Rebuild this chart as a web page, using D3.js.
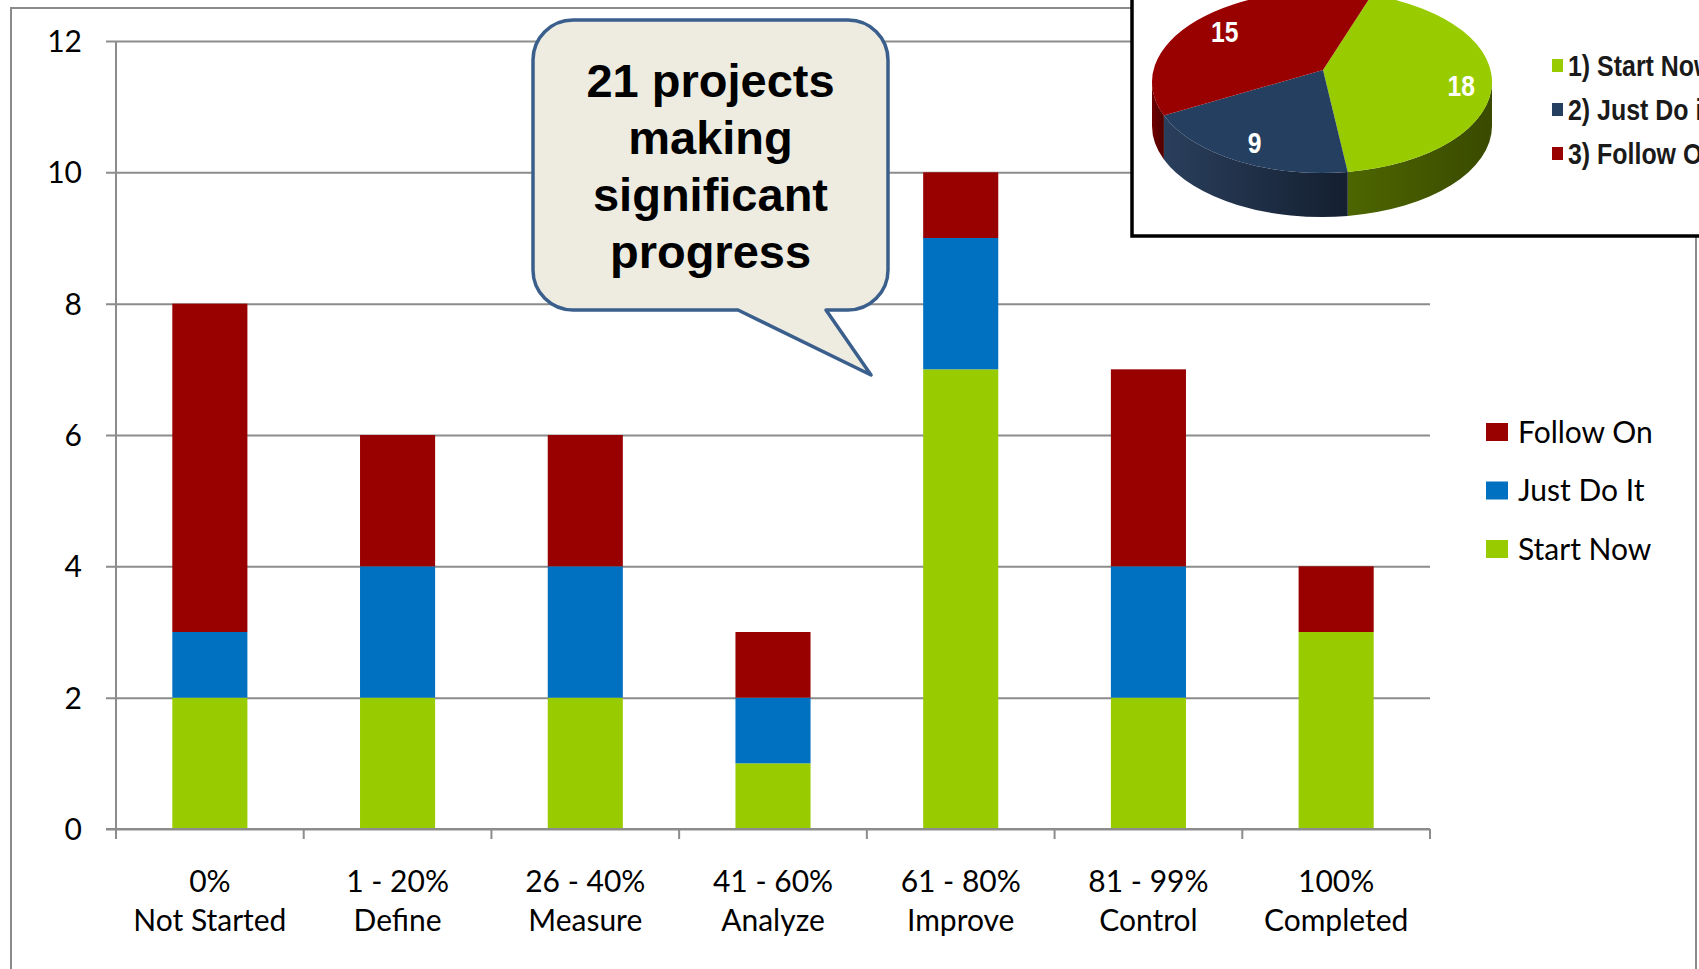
<!DOCTYPE html>
<html>
<head>
<meta charset="utf-8">
<script src="https://cdn.jsdelivr.net/npm/d3@7"></script>
<style>
  body { margin: 0; background: #fff; }
  svg { display: block; }
</style>
</head>
<body>
<div id="chart"></div>
<script>
// Bar chart data
var categories = ["0%|Not Started", "1 - 20%|Define", "26 - 40%|Measure", "41 - 60%|Analyze",
                  "61 - 80%|Improve", "81 - 99%|Control", "100%|Completed"];
var startNow = [2, 2, 2, 1, 7, 2, 3];
var justDoIt = [1, 2, 2, 1, 2, 2, 0];
var followOn = [5, 2, 2, 1, 1, 3, 1];
var yTicks = [0, 2, 4, 6, 8, 10, 12];

// Inset pie data
var pieLabels = ["1) Start Now", "2) Just Do it", "3) Follow On"];
var pieValues = [18, 9, 15];

var calloutLines = ["21 projects", "making", "significant", "progress"];

var svgWidth = 1699;
var svgHeight = 969;

var colors = { start: "#99cc00", just: "#0070c0", follow: "#990000" };

var svg = d3.select("#chart")
    .append("svg")
    .attr("width", svgWidth)
    .attr("height", svgHeight);

// outer chart border
svg.append("rect")
    .attr("x", 11).attr("y", 8)
    .attr("width", 1685).attr("height", 1000)
    .attr("fill", "none")
    .attr("stroke", "#8a8a8a")
    .attr("stroke-width", 2);

// Scales
var plotLeft = 116, plotRight = 1430, plotTop = 41, plotBottom = 829;

var xAxisScale = d3.scaleBand()
    .domain(categories)
    .range([plotLeft, plotRight])
    .padding(0);

var xBar = d3.scaleBand()
    .domain(categories)
    .range([plotLeft, plotRight])
    .paddingInner(0.6)
    .paddingOuter(0.3);

var yScale = d3.scaleLinear()
    .domain([0, 12])
    .range([plotBottom, plotTop]);

var labelFont = "Lato, 'Open Sans', sans-serif";

// gridlines + y axis
var leftAxis = d3.axisLeft(yScale)
    .tickValues(yTicks)
    .tickSize(10)
    .tickFormat(d3.format("d"));

var yAxisG = svg.append("g")
    .attr("transform", `translate(${plotLeft}, 0)`)
    .call(leftAxis);
yAxisG.select(".domain")
    .attr("stroke", "#8c8c8c")
    .attr("stroke-width", 2)
    .attr("d", `M0,${plotTop}V${plotBottom}`);
yAxisG.selectAll(".tick line")
    .attr("x1", plotRight - plotLeft)
    .attr("x2", -10)
    .attr("stroke", "#8c8c8c")
    .attr("stroke-width", 2);
yAxisG.selectAll(".tick text")
    .attr("x", 82 - plotLeft)
    .attr("dy", "0.35em")
    .attr("font-family", labelFont)
    .attr("font-size", "30px")
    .attr("fill", "#000");

// stacked bars
var table = categories.map((c, i) => ({ cat: c, start: startNow[i], just: justDoIt[i], follow: followOn[i] }));
var stack = d3.stack().keys(["start", "just", "follow"]);
var series = stack(table);

svg.append("g").selectAll("g")
    .data(series)
    .enter()
    .append("g")
    .attr("fill", d => colors[d.key])
    .selectAll("rect")
    .data(d => d)
    .enter()
    .append("rect")
    .attr("x", d => xBar(d.data.cat))
    .attr("width", xBar.bandwidth())
    .attr("y", d => yScale(d[1]))
    .attr("height", d => yScale(d[0]) - yScale(d[1]));

// x axis with ticks at category boundaries
var bottomAxis = d3.axisBottom(xAxisScale).tickSize(0).tickFormat("");
var xAxisG = svg.append("g")
    .attr("transform", `translate(0, ${plotBottom})`)
    .call(bottomAxis);
xAxisG.select(".domain")
    .attr("stroke", "#8c8c8c")
    .attr("stroke-width", 2)
    .attr("d", `M${plotLeft - 10},0H${plotRight}`);

var boundaries = categories.map(c => xAxisScale(c)).concat([plotRight]);
xAxisG.selectAll(".bound")
    .data(boundaries)
    .enter()
    .append("line")
    .attr("x1", d => d).attr("x2", d => d)
    .attr("y1", 0).attr("y2", 10)
    .attr("stroke", "#8c8c8c")
    .attr("stroke-width", 2);

var xLabels = svg.append("g").selectAll("text")
    .data(categories)
    .enter()
    .append("text")
    .attr("text-anchor", "middle")
    .attr("font-family", labelFont)
    .attr("font-size", "30px")
    .attr("fill", "#000");
xLabels.each(function(d) {
    var parts = d.split("|");
    var cx = xAxisScale(d) + xAxisScale.bandwidth() / 2;
    d3.select(this).append("tspan").attr("x", cx).attr("y", 892).text(parts[0]);
    d3.select(this).append("tspan").attr("x", cx).attr("y", 931).text(parts[1]);
});

// legend
var legendItems = [
    { key: "follow", label: "Follow On" },
    { key: "just", label: "Just Do It" },
    { key: "start", label: "Start Now" }
];
var legend = svg.append("g").selectAll("g")
    .data(legendItems)
    .enter()
    .append("g")
    .attr("transform", (d, i) => `translate(1486, ${432 + i * 58.5})`);
legend.append("rect")
    .attr("x", 0).attr("y", -9)
    .attr("width", 22).attr("height", 18)
    .attr("fill", d => colors[d.key]);
legend.append("text")
    .attr("x", 32)
    .attr("y", 0)
    .attr("dy", "0.36em")
    .attr("font-family", labelFont)
    .attr("font-size", "30px")
    .attr("fill", "#000")
    .text(d => d.label);

// callout bubble
var co = { x: 533, y: 20, w: 355, h: 290, r: 40 };
var tailA = 738, tailB = 826, tip = [871, 375];
var bubble = d3.path();
bubble.moveTo(co.x + co.r, co.y);
bubble.lineTo(co.x + co.w - co.r, co.y);
bubble.arcTo(co.x + co.w, co.y, co.x + co.w, co.y + co.r, co.r);
bubble.lineTo(co.x + co.w, co.y + co.h - co.r);
bubble.arcTo(co.x + co.w, co.y + co.h, co.x + co.w - co.r, co.y + co.h, co.r);
bubble.lineTo(tailB, co.y + co.h);
bubble.lineTo(tip[0], tip[1]);
bubble.lineTo(tailA, co.y + co.h);
bubble.lineTo(co.x + co.r, co.y + co.h);
bubble.arcTo(co.x, co.y + co.h, co.x, co.y + co.h - co.r, co.r);
bubble.lineTo(co.x, co.y + co.r);
bubble.arcTo(co.x, co.y, co.x + co.r, co.y, co.r);
bubble.closePath();

svg.append("path")
    .attr("d", bubble.toString())
    .attr("fill", "#eeece1")
    .attr("stroke", "#3b5f8c")
    .attr("stroke-width", 3.5)
    .attr("stroke-linejoin", "round");

svg.append("g").selectAll("text")
    .data(calloutLines)
    .enter()
    .append("text")
    .attr("x", co.x + co.w / 2)
    .attr("y", (d, i) => 97 + i * 57)
    .attr("text-anchor", "middle")
    .attr("font-family", "'Liberation Sans', Arial, sans-serif")
    .attr("font-weight", "bold")
    .attr("font-size", "47px")
    .attr("fill", "#000")
    .text(d => d);

// inset pie box
var inset = svg.append("g");
inset.append("rect")
    .attr("x", 1132).attr("y", -10)
    .attr("width", 600).attr("height", 246)
    .attr("fill", "#fff")
    .attr("stroke", "#000")
    .attr("stroke-width", 3.5);

var defs = svg.append("defs");
var sideColors = [["#4d6600", "#3a4a00"], ["#2a3f5c", "#141f30"], ["#6e0000", "#500000"]];
var topColors = ["#99cc00", "#253f60", "#990000"];
sideColors.forEach((c, i) => {
    var g = defs.append("linearGradient").attr("id", "side" + i)
        .attr("x1", "0%").attr("x2", "100%").attr("y1", "0%").attr("y2", "0%");
    g.append("stop").attr("offset", "0%").attr("stop-color", c[0]);
    g.append("stop").attr("offset", "100%").attr("stop-color", c[1]);
});

var pc = { cx: 1322, cy: 82, rx: 170, ry: 91, depth: 44, vx: 1323, vy: 70 };
var pie = d3.pie().sort(null).startAngle(17 * Math.PI / 180).endAngle(377 * Math.PI / 180);
var arcs = pie(pieValues);

function pt(t, dy) {
    return [pc.cx + pc.rx * Math.cos(t), pc.cy + pc.ry * Math.sin(t) + (dy || 0)];
}

// side walls (front half only)
arcs.forEach((a, i) => {
    var t0 = a.startAngle - Math.PI / 2, t1 = a.endAngle - Math.PI / 2;
    var s0 = Math.max(t0, 0), s1 = Math.min(t1, Math.PI);
    if (s1 <= s0) return;
    var p0 = pt(s0), p1 = pt(s1), q1 = pt(s1, pc.depth), q0 = pt(s0, pc.depth);
    inset.append("path")
        .attr("d", `M${p0}A${pc.rx},${pc.ry} 0 0 1 ${p1}L${q1}A${pc.rx},${pc.ry} 0 0 0 ${q0}Z`)
        .attr("fill", `url(#side${i})`);
});

// top faces
arcs.forEach((a, i) => {
    var t0 = a.startAngle - Math.PI / 2, t1 = a.endAngle - Math.PI / 2;
    var large = (t1 - t0) > Math.PI ? 1 : 0;
    inset.append("path")
        .attr("d", `M${pc.vx},${pc.vy}L${pt(t0)}A${pc.rx},${pc.ry} 0 ${large} 1 ${pt(t1)}Z`)
        .attr("fill", topColors[i]);
});

var narrow = "'Liberation Sans Narrow', 'Arial Narrow', 'Liberation Sans', sans-serif";
var labelFrac = [0.82, 0.8, 0.78];
arcs.forEach((a, i) => {
    var tm = (a.startAngle + a.endAngle) / 2 - Math.PI / 2;
    var p = pt(tm);
    var lx = pc.vx + labelFrac[i] * (p[0] - pc.vx), ly = pc.vy + labelFrac[i] * (p[1] - pc.vy);
    inset.append("text")
        .attr("transform", `translate(${lx},${ly}) scale(0.85,1)`)
        .attr("dy", "0.36em")
        .attr("text-anchor", "middle")
        .attr("font-family", narrow)
        .attr("font-weight", "bold")
        .attr("font-size", "29px")
        .attr("fill", "#fff")
        .text(pieValues[i]);
});

var pieLegend = inset.selectAll(".pl")
    .data(pieLabels)
    .enter()
    .append("g")
    .attr("transform", (d, i) => `translate(1552, ${66 + i * 44})`);
pieLegend.append("rect")
    .attr("x", 0).attr("y", -7)
    .attr("width", 11).attr("height", 13)
    .attr("fill", (d, i) => topColors[i]);
pieLegend.append("text")
    .attr("transform", "translate(16,0) scale(0.86,1)")
    .attr("dy", "0.36em")
    .attr("font-family", narrow)
    .attr("font-weight", "bold")
    .attr("font-size", "29px")
    .attr("fill", "#1a1a1a")
    .text(d => d);
</script>
</body>
</html>
